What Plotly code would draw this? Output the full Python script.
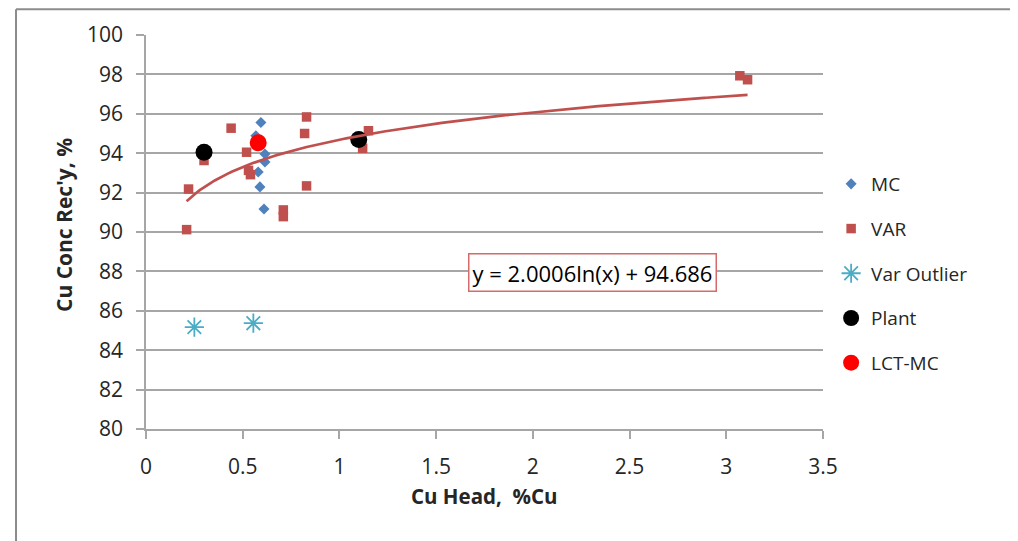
import numpy as np
import plotly.graph_objects as go

# ---- data ----
mc_x = [0.594, 0.568, 0.615, 0.615, 0.580, 0.589, 0.610]
mc_y = [95.56, 94.89, 93.96, 93.55, 93.05, 92.29, 91.17]

var_x = [0.44, 0.83, 0.82, 0.52, 0.30, 0.53, 0.54, 0.83, 0.22, 0.71, 0.71, 0.21, 1.15, 1.12, 3.07, 3.11]
var_y = [95.27, 95.84, 95.00, 94.05, 93.63, 93.13, 92.91, 92.34, 92.18, 91.12, 90.78, 90.12, 95.14, 94.25, 97.93, 97.73]

outlier_x = [0.25, 0.555]
outlier_y = [85.17, 85.37]

plant_x = [0.30, 1.10]
plant_y = [94.05, 94.69]

lct_x = [0.58]
lct_y = [94.53]

# logarithmic trendline of VAR, as printed on the chart
trend_a = 2.0006
trend_b = 94.686
trend_label = "y = 2.0006ln(x) + 94.686"

x_ticks = [0, 0.5, 1, 1.5, 2, 2.5, 3, 3.5]
y_ticks = [80, 82, 84, 86, 88, 90, 92, 94, 96, 98, 100]

FONT = "Open Sans"
TXT = "#262626"
GRID = "#A6A6A6"

fig = go.Figure()

fig.add_trace(go.Scatter(x=mc_x, y=mc_y, mode="markers", name="MC", legendgroup="a",
                         marker=dict(symbol="diamond", size=8.5, color="#4F81BD")))
fig.add_trace(go.Scatter(x=var_x, y=var_y, mode="markers", name="VAR", legendgroup="b",
                         marker=dict(symbol="square", size=9.5, color="#C0504D")))
fig.add_trace(go.Scatter(x=outlier_x, y=outlier_y, mode="markers", name="Var Outlier", legendgroup="c",
                         marker=dict(symbol="asterisk-open", size=16,
                                     line=dict(color="#4BACC6", width=1.8), color="#4BACC6")))
fig.add_trace(go.Scatter(x=plant_x, y=plant_y, mode="markers", name="Plant", legendgroup="d",
                         marker=dict(symbol="circle", size=17, color="black")))
fig.add_trace(go.Scatter(x=lct_x, y=lct_y, mode="markers", name="LCT-MC", legendgroup="e",
                         marker=dict(symbol="circle", size=17, color="#FF0000")))

tx = np.linspace(min(var_x), max(var_x), 300)
ty = trend_a * np.log(tx) + trend_b
fig.add_trace(go.Scatter(x=tx, y=ty, mode="lines", showlegend=False, hoverinfo="skip",
                         line=dict(color="#C0504D", width=2.7)))

fig.update_layout(
    width=1018, height=541, autosize=False,
    margin=dict(l=138, r=203, t=23, b=120),
    paper_bgcolor="white", plot_bgcolor="white",
    font=dict(family=FONT, color=TXT, size=20),
    showlegend=True,
    legend=dict(x=1.012, y=0.670, xanchor="left", yanchor="top",
                font=dict(family=FONT, size=19, color=TXT),
                tracegroupgap=17, itemwidth=30, bgcolor="rgba(0,0,0,0)"),
)

fig.update_xaxes(range=[0, 3.5], tickvals=x_ticks, ticktext=[f"{v:g}" for v in x_ticks],
                 showgrid=False, zeroline=False, showline=True, linecolor=GRID, linewidth=1.5,
                 ticks="outside", ticklen=8, tickcolor=GRID, tickwidth=1.5,
                 ticklabelstandoff=10,
                 tickfont=dict(family=FONT, size=21, color=TXT))
fig.update_yaxes(range=[80, 100], tickvals=y_ticks,
                 showgrid=True, gridcolor=GRID, gridwidth=1.5, zeroline=False,
                 showline=True, linecolor=GRID, linewidth=1.5,
                 ticks="outside", ticklen=8, tickcolor=GRID, tickwidth=1.5,
                 ticklabelstandoff=9,
                 tickfont=dict(family=FONT, size=21, color=TXT))

annotations = [
    dict(x=2.306, y=87.92, xref="x", yref="y", text=trend_label, showarrow=False,
         font=dict(family=FONT, size=22, color="black"),
         bordercolor="#D46A6A", borderwidth=1.5, borderpad=3, bgcolor="white"),
    dict(x=0.5, y=-0.171, xref="paper", yref="paper", text="<b>Cu Head,  %Cu</b>",
         showarrow=False, xanchor="center", yanchor="middle",
         font=dict(family=FONT, size=20.5, color=TXT)),
    dict(x=-0.121, y=0.518, xref="paper", yref="paper", text="<b>Cu Conc Rec'y, %</b>",
         showarrow=False, xanchor="center", yanchor="middle", textangle=-90,
         font=dict(family=FONT, size=21, color=TXT)),
]
fig.update_layout(annotations=annotations)

# outer chart frame (top and left edges visible)
fig.add_shape(type="line", xref="paper", yref="paper", x0=-0.192, x1=1.35, y0=1.0653, y1=1.0653,
              line=dict(color="#8C8C8C", width=2))
fig.add_shape(type="line", xref="paper", yref="paper", x0=-0.192, x1=-0.192, y0=-0.35, y1=1.0653,
              line=dict(color="#8C8C8C", width=2))

fig.write_html("out.html")
